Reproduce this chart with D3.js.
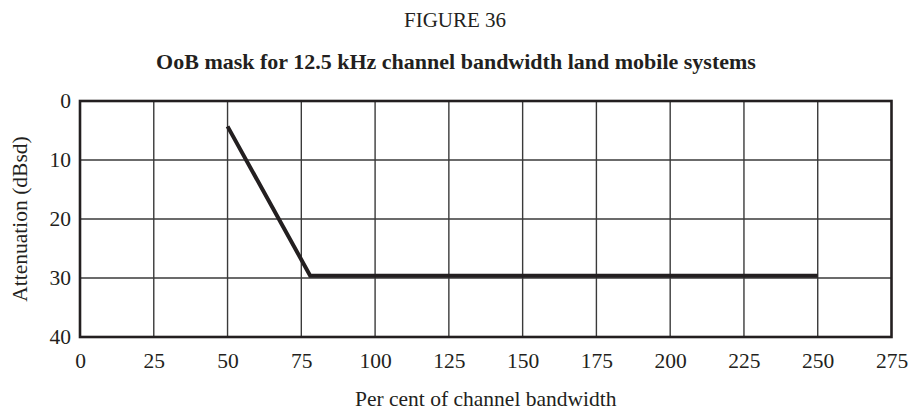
<!DOCTYPE html>
<html><head><meta charset="utf-8">
<script src="https://cdn.jsdelivr.net/npm/d3@7"></script>
<style>body{margin:0;background:#fff}svg{display:block}text{font-family:"Liberation Serif","Times New Roman",serif;fill:#231f20}</style>
</head><body><svg id="c" width="909" height="411"></svg>
<script>
const xTicks = [0,25,50,75,100,125,150,175,200,225,250,275];
const yTicks = [0,10,20,30,40];
const maskX = [50, 78, 250];
const maskY = [4.3, 29.6, 29.6];
const figureLabel = "FIGURE 36";
const title = "OoB mask for 12.5 kHz channel bandwidth land mobile systems";
const xTitle = "Per cent of channel bandwidth";
const yTitle = "Attenuation (dBsd)";

const svg = d3.select("#c");
const m = {l:80, r:17.5, t:101, b:74};
const W = 909, H = 411;
const x = d3.scaleLinear().domain([0,275]).range([m.l, W-m.r]);
const y = d3.scaleLinear().domain([0,40]).range([m.t, H-m.b]);
const ink = "#231f20";
const fs = "21.5px";

svg.append("text").attr("x", 455).attr("y", 27).attr("text-anchor","middle")
  .style("font-size","21px").text(figureLabel);
svg.append("text").attr("x", 456).attr("y", 69).attr("text-anchor","middle")
  .style("font-size","22px").style("font-weight","bold").text(title);

// grid
const g = svg.append("g");
g.selectAll("line.vx").data(xTicks.slice(1,-1)).join("line")
  .attr("x1", d=>x(d)).attr("x2", d=>x(d)).attr("y1", y(0)).attr("y2", y(40))
  .attr("stroke", "#3a3a3a").attr("stroke-width", 1.4);
g.selectAll("line.hy").data(yTicks.slice(1,-1)).join("line")
  .attr("x1", x(0)).attr("x2", x(275)).attr("y1", d=>y(d)).attr("y2", d=>y(d))
  .attr("stroke", "#3a3a3a").attr("stroke-width", 1.4);

// axes labels via d3 axes
const xa = svg.append("g").attr("transform", `translate(0,${y(40)})`)
  .call(d3.axisBottom(x).tickValues(xTicks).tickSize(0));
xa.select(".domain").remove();
xa.selectAll("text").attr("dy", null).attr("y", 31)
  .style("font-size",fs).style("font-family","Liberation Serif").attr("fill", ink);
const ya = svg.append("g").attr("transform", `translate(${x(0)},0)`)
  .call(d3.axisLeft(y).tickValues(yTicks).tickSize(0).tickPadding(9));
ya.select(".domain").remove();
ya.selectAll("text").style("font-size",fs).style("font-family","Liberation Serif").attr("fill", ink);

// border
svg.append("rect").attr("x", x(0)).attr("y", y(0)).attr("width", x(275)-x(0)).attr("height", y(40)-y(0))
  .attr("fill","none").attr("stroke", ink).attr("stroke-width", 2.6);

// mask line
const pts = maskX.map((d,i)=>[d, maskY[i]]);
svg.append("path").datum(pts)
  .attr("d", d3.line().x(d=>x(d[0])).y(d=>y(d[1])))
  .attr("fill","none").attr("stroke", ink).attr("stroke-width", 4).attr("stroke-linejoin","miter");

svg.append("text").attr("x", (x(0)+x(275))/2).attr("y", 406).attr("text-anchor","middle")
  .style("font-size",fs).text(xTitle);
svg.append("text").attr("transform", `translate(27,${(y(0)+y(40))/2}) rotate(-90)`).attr("text-anchor","middle")
  .style("font-size",fs).text(yTitle);
</script></body></html>
